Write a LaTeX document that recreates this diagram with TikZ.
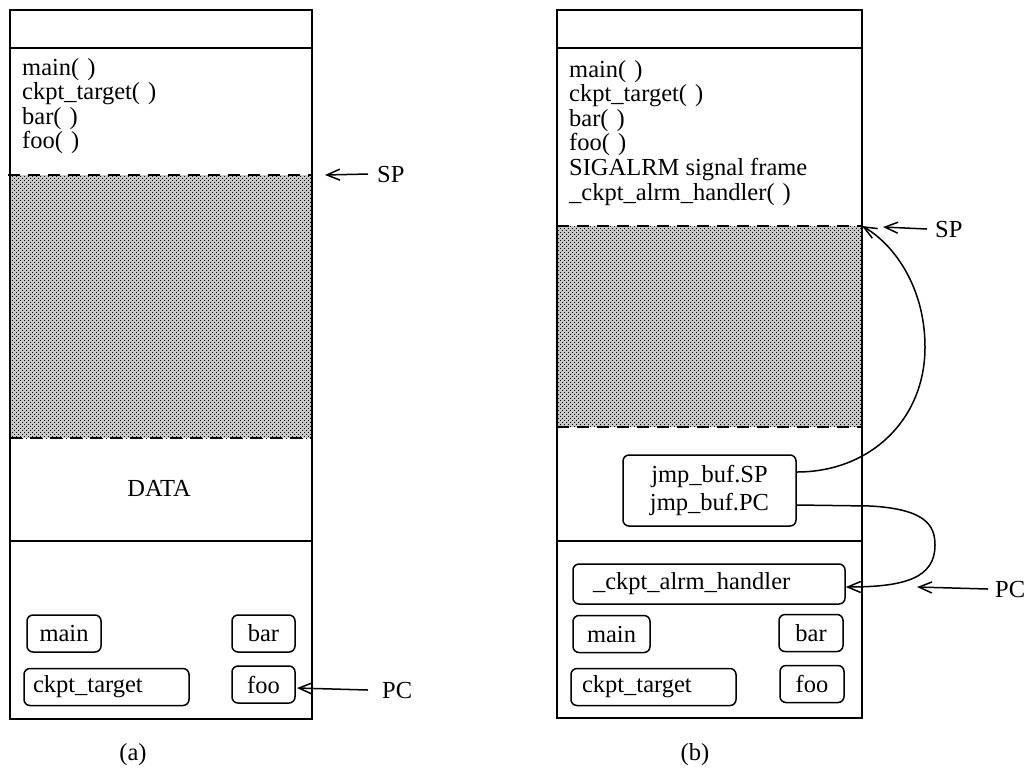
\documentclass[tikz,border=0pt]{standalone}
\usepackage{fontspec}
\setmainfont{Liberation Serif}
\usetikzlibrary{arrows.meta,patterns.meta}

% fine checker of dots used for the unused stack area
\tikzdeclarepattern{
  name=stackdots,
  type=uncolored,
  bottom left={(-0.5pt,-0.5pt)},
  top right={(4.5pt,4.5pt)},
  tile size={(4pt,4pt)},
  code={
    \fill (0pt,0pt) rectangle (1.3pt,1.3pt);
    \fill (2pt,2pt) rectangle (3.3pt,3.3pt);
  }
}

% empty argument list as printed: "( )"
\newcommand{\noargs}{(\kern8pt)}

\begin{document}
\begin{tikzpicture}[x=1pt,y=-1pt,
  every node/.style={inner sep=0pt, font=\fontsize{24.5}{24.6}\selectfont},
  frame/.style={line width=1.8pt},
  cut/.style={line width=1.7pt, dash pattern=on 12pt off 8pt},
  unused/.style={fill=black!22, postaction={pattern=stackdots, pattern color=black}},
  rbox/.style={draw, line width=1.5pt, rounded corners=6pt, minimum height=37pt},
  lbox/.style={rbox, align=left},
  cbox/.style={rbox, align=center},
  ptr/.style={line width=1.5pt, -{Straight Barb[length=13pt,width=11pt,line width=1.5pt]}},
  lbl/.style={anchor=base west}]

\useasboundingbox (0,0) rectangle (1032,777);

% ---------------- (a) ----------------
\path[unused] (10,175) rectangle (312,438);
\draw[cut] (8,175) -- (312,175);
\draw[cut] (10,438) -- (312,438);
\draw[frame] (10,10) rectangle (312,719);
\draw[frame] (10,48) -- (312,48);
\draw[frame] (10,541) -- (312,541);

\node[lbl] (fa1) at (22,75) {main\noargs};
\node[lbl] (fa2) at (22,99.6) {ckpt\_target\noargs};
\node[lbl] (fa3) at (22,124.2) {bar\noargs};
\node[lbl] (fa4) at (22,148.8) {foo\noargs};

\node (dataA) at (159,488) {DATA};

\node[cbox, minimum width=74pt] (mainA) at (64,633.5) {main};
\node[cbox, minimum width=63pt] (barA) at (263.5,633.5) {bar};
\node[lbox, inner xsep=9pt, text width=147pt] (ckptA) at (106.5,687) {ckpt\_target};
\node[cbox, minimum width=63pt] (fooA) at (263.5,684.5) {foo};

\node[lbl] (spLabA) at (377,182) {SP};
\coordinate (spA) at (325,175);
\draw[ptr] ([xshift=-9pt]spLabA.west) -- (spA);

\node[lbl] (pcLabA) at (382,698) {PC};
\coordinate (pcA) at (297,688);
\draw[ptr] ([xshift=-14pt]pcLabA.west) -- (pcA);

\node (capA) at (133,755) {(a)};

% ---------------- (b) ----------------
\path[unused] (557,226) rectangle (862,427);
\draw[cut] (557,226) -- (862,226);
\draw[cut] (557,427) -- (862,427);
\draw[frame] (557,10) rectangle (862,718);
\draw[frame] (557,48) -- (862,48);
\draw[frame] (557,541) -- (862,541);

\node[lbl] (fb1) at (569,77) {main\noargs};
\node[lbl] (fb2) at (569,101.6) {ckpt\_target\noargs};
\node[lbl] (fb3) at (569,126.2) {bar\noargs};
\node[lbl] (fb4) at (569,150.8) {foo\noargs};
\node[lbl] (fb5) at (569,175.4) {SIGALRM signal frame};
\node[lbl] (fb6) at (569,200) {\_ckpt\_alrm\_handler\noargs};

\node[cbox, minimum width=173pt, minimum height=71pt,
      font=\fontsize{24.5}{28}\selectfont] (jmp) at (709.5,490.5)
      {jmp\_buf.SP\\jmp\_buf.PC};

\node[lbox, inner xsep=20pt, text width=232pt, minimum height=40pt] (handler) at (709,584) {\_ckpt\_alrm\_handler};
\node[cbox, minimum width=77pt] (mainB) at (611.5,634) {main};
\node[cbox, minimum width=64pt] (barB) at (811,633) {bar};
\node[lbox, inner xsep=11pt, text width=143pt] (ckptB) at (653.5,687) {ckpt\_target};
\node[cbox, minimum width=64pt] (fooB) at (812,684) {foo};

\node[lbl] (spLabB) at (935,237) {SP};
\coordinate (spB) at (883,227);
\coordinate (topB) at (862,226);
\draw[ptr] ([xshift=-8pt]spLabB.west) -- (spB);

\node[lbl] (pcLabB) at (995,597) {PC};
\coordinate (pcB) at (917,587);
\draw[ptr] ([xshift=-7pt]pcLabB.west) -- (pcB);

% saved stack pointer points back at the top of the free stack
\draw[ptr] ([yshift=18.5pt]jmp.east)
  .. controls (870,472) and (925,420) .. (925,347)
  .. controls (925,285) and (892,243) .. (topB);

% saved program counter points at the handler
\draw[ptr] ([yshift=-14.5pt]jmp.east) -- (870,506)
  .. controls (925,509) and (935,525) .. (935,545)
  .. controls (935,578) and (905,587) .. ([yshift=-3pt]handler.east);

\node (capB) at (695,755) {(b)};

\end{tikzpicture}
\end{document}
